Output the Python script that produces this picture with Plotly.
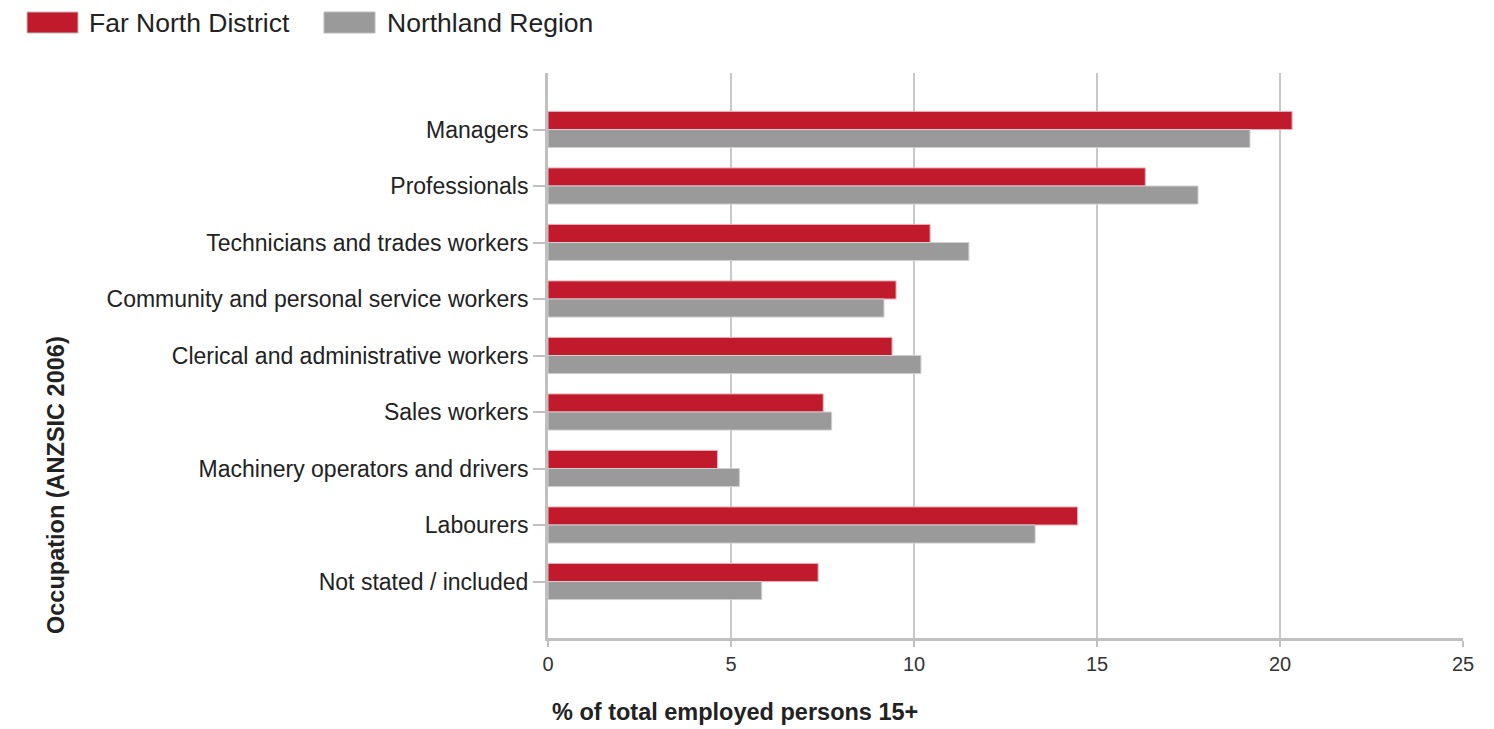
import plotly.graph_objects as go

# Occupation shares of employed persons aged 15+
occupations = [
    "Managers",
    "Professionals",
    "Technicians and trades workers",
    "Community and personal service workers",
    "Clerical and administrative workers",
    "Sales workers",
    "Machinery operators and drivers",
    "Labourers",
    "Not stated / included",
]
far_north = [20.33, 16.32, 10.44, 9.51, 9.40, 7.52, 4.63, 14.47, 7.38]
northland = [19.18, 17.76, 11.50, 9.18, 10.19, 7.75, 5.23, 13.31, 5.84]
x_ticks = [0, 5, 10, 15, 20, 25]

series_names = ["Far North District", "Northland Region"]
RED = "#c01a2c"
GREY = "#9a9a9a"
FONT = "Liberation Sans, Arial, sans-serif"
TEXT = "#222222"

positions = list(range(len(occupations)))

fig = go.Figure()
fig.add_trace(go.Bar(
    y=positions, x=far_north, orientation="h", name=series_names[0],
    marker=dict(color=RED, line=dict(color="#e8b0b6", width=1)),
    showlegend=False,
))
fig.add_trace(go.Bar(
    y=positions, x=northland, orientation="h", name=series_names[1],
    marker=dict(color=GREY, line=dict(color="#d0d0d0", width=1)),
    showlegend=False,
))

W, H = 1494, 729
ML, MR, MT, MB = 548, 31, 73, 91
pw, ph = W - ML - MR, H - MT - MB


def px_x(px):
    return (px - ML) / pw


def px_y(py):
    return (H - MB - py) / ph


# Legend drawn as swatches + labels above the plot
legend_items = [(series_names[0], RED, 27, 78, 87), (series_names[1], GREY, 324, 375, 385)]
for name, col, x0, x1, tx in legend_items:
    fig.add_shape(type="rect", xref="paper", yref="paper",
                  x0=px_x(x0), x1=px_x(x1), y0=px_y(33), y1=px_y(12),
                  fillcolor=col, line=dict(color="#bbbbbb", width=1))
    fig.add_annotation(xref="paper", yref="paper", x=px_x(tx), y=px_y(22.5),
                       text=name, showarrow=False, xanchor="left", yanchor="middle",
                       font=dict(family=FONT, size=26.5, color=TEXT))

# Axis titles
fig.add_annotation(xref="paper", yref="paper", x=px_x(550), y=px_y(712),
                   text="<b>% of total employed persons 15+</b>", showarrow=False,
                   xanchor="left", yanchor="middle",
                   font=dict(family=FONT, size=23.5, color=TEXT))
fig.add_annotation(xref="paper", yref="paper", x=px_x(56), y=px_y(485),
                   text="<b>Occupation (ANZSIC 2006)</b>", showarrow=False, textangle=-90,
                   xanchor="center", yanchor="middle",
                   font=dict(family=FONT, size=23.5, color=TEXT))

fig.update_layout(
    width=W, height=H,
    margin=dict(l=ML, r=MR, t=MT, b=MB, pad=0),
    paper_bgcolor="white", plot_bgcolor="white",
    barmode="group", bargap=0.36, bargroupgap=0.0,
    font=dict(family=FONT, size=20, color=TEXT),
)
fig.update_xaxes(
    range=[0, 25], tickvals=x_ticks, ticktext=[str(v) for v in x_ticks],
    showgrid=True, gridcolor="#c8c8c8", gridwidth=2,
    showline=True, linecolor="#c0c0c0", linewidth=3,
    ticks="outside", ticklen=6, tickcolor="#c0c0c0", tickwidth=2,
    tickfont=dict(size=20, color="#333333"),
    zeroline=False,
)
fig.update_yaxes(
    range=[len(occupations), -1], tickvals=positions, ticktext=occupations,
    showgrid=False, zeroline=False,
    showline=True, linecolor="#c0c0c0", linewidth=3,
    ticks="outside", ticklen=12, tickcolor="#c0c0c0", tickwidth=2,
    tickfont=dict(size=23, color=TEXT),
    ticklabelstandoff=0,
)

fig.write_html("out.html")
